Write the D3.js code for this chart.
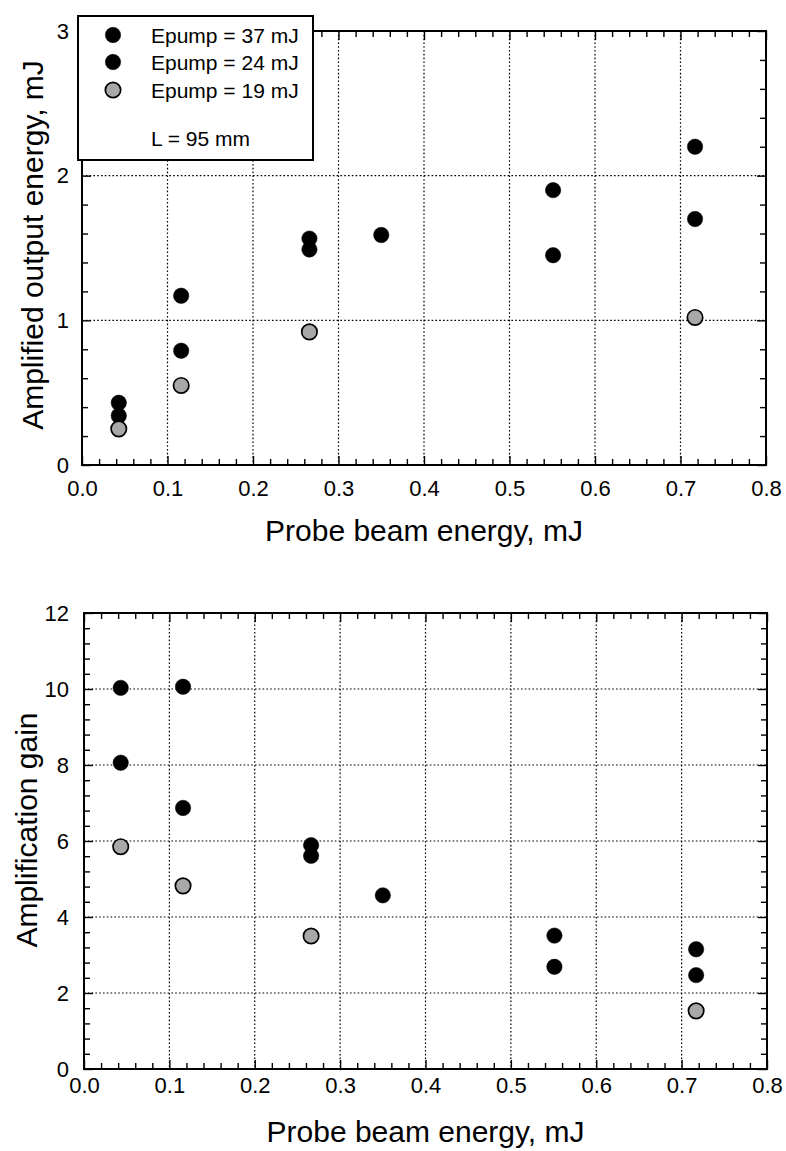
<!DOCTYPE html>
<html><head><meta charset="utf-8">
<script src="https://cdn.jsdelivr.net/npm/d3@7/dist/d3.min.js"></script>
<style>
html,body{margin:0;padding:0;background:#fff;}
svg{display:block;font-family:"Liberation Sans",Arial,Helvetica,sans-serif;}
</style></head>
<body>
<svg id="c" width="786" height="1151"></svg>
<script>
// ---- data ----
const seriesNames = ["Epump = 37 mJ", "Epump = 24 mJ", "Epump = 19 mJ"];
const probe37 = [0.043, 0.116, 0.266, 0.350, 0.551, 0.717];
const probe24 = [0.043, 0.116, 0.266, 0.551, 0.717];
const probe19 = [0.043, 0.116, 0.266, 0.717];
const out37 = [0.43, 1.17, 1.565, 1.59, 1.90, 2.20];
const out24 = [0.34, 0.79, 1.49, 1.45, 1.70];
const out19 = [0.25, 0.55, 0.92, 1.02];
const gain37 = [10.03, 10.06, 5.89, 4.57, 3.51, 3.15];
const gain24 = [8.06, 6.87, 5.61, 2.69, 2.47];
const gain19 = [5.85, 4.82, 3.50, 1.53];
const xTicks = [0.0, 0.1, 0.2, 0.3, 0.4, 0.5, 0.6, 0.7, 0.8];
const yTicksTop = [0, 1, 2, 3];
const yTicksBot = [0, 2, 4, 6, 8, 10, 12];
const legendNote = "L = 95 mm";

const svg = d3.select("#c");
const fills = ["#000", "#000", "#a8a8a8"];
const R = 7.7;

function panel(o) {
  const g = svg.append("g");
  const x = d3.scaleLinear().domain([0, 0.8]).range([o.left, o.right]);
  const y = d3.scaleLinear().domain(o.ydom).range([o.bottom, o.top]);
  // grid
  g.append("g").selectAll("line").data(xTicks.slice(1, -1)).join("line")
    .attr("x1", d => x(d)).attr("x2", d => x(d)).attr("y1", o.top).attr("y2", o.bottom)
    .attr("stroke", "#000").attr("stroke-width", 1.2).attr("stroke-dasharray", "1.6,2.2");
  g.append("g").selectAll("line").data(o.yTicks.slice(1, -1)).join("line")
    .attr("y1", d => y(d)).attr("y2", d => y(d)).attr("x1", o.left).attr("x2", o.right)
    .attr("stroke", "#000").attr("stroke-width", 1.2).attr("stroke-dasharray", "1.6,2.2");
  // minor ticks
  const xMin = d3.range(0, 41).map(i => i * 0.02).filter((d, i) => i % 5 !== 0);
  const yMin = d3.range(0, Math.round(o.ydom[1] / o.ymStep) + 1).map(i => i * o.ymStep)
    .filter((d, i) => i % 5 !== 0);
  const styleAx = s => { s.select(".domain").remove(); s.selectAll("line").attr("stroke", "#000").attr("stroke-width", 1.4); };
  g.append("g").attr("transform", `translate(0,${o.bottom})`)
    .call(d3.axisBottom(x).tickValues(xMin).tickSize(-6).tickFormat("")).call(styleAx);
  g.append("g").attr("transform", `translate(0,${o.top})`)
    .call(d3.axisTop(x).tickValues(xMin).tickSize(-6).tickFormat("")).call(styleAx);
  g.append("g").attr("transform", `translate(${o.left},0)`)
    .call(d3.axisLeft(y).tickValues(yMin).tickSize(-6).tickFormat("")).call(styleAx);
  g.append("g").attr("transform", `translate(${o.right},0)`)
    .call(d3.axisRight(y).tickValues(yMin).tickSize(-6).tickFormat("")).call(styleAx);
  // major ticks + labels
  const xa = g.append("g").attr("transform", `translate(0,${o.bottom})`)
    .call(d3.axisBottom(x).tickValues(xTicks).tickSize(-9).tickPadding(o.xPad).tickFormat(d3.format(".1f")))
    .call(styleAx);
  xa.selectAll("text").attr("font-size", 22).attr("fill", "#000").attr("font-family", "Liberation Sans, Arial, sans-serif");
  g.append("g").attr("transform", `translate(0,${o.top})`)
    .call(d3.axisTop(x).tickValues(xTicks).tickSize(-9).tickFormat("")).call(styleAx);
  const ya = g.append("g").attr("transform", `translate(${o.left},0)`)
    .call(d3.axisLeft(y).tickValues(o.yTicks).tickSize(-9).tickPadding(o.yPad).tickFormat(d3.format("d")))
    .call(styleAx);
  ya.selectAll("text").attr("font-size", 22).attr("fill", "#000").attr("font-family", "Liberation Sans, Arial, sans-serif");
  g.append("g").attr("transform", `translate(${o.right},0)`)
    .call(d3.axisRight(y).tickValues(o.yTicks).tickSize(-9).tickFormat("")).call(styleAx);
  // frame
  g.append("rect").attr("x", o.left).attr("y", o.top).attr("width", o.right - o.left).attr("height", o.bottom - o.top)
    .attr("fill", "none").attr("stroke", "#000").attr("stroke-width", 2);
  // titles
  g.append("text").attr("x", (o.left + o.right) / 2).attr("y", o.xTitleY).attr("text-anchor", "middle")
    .attr("font-size", 30).text("Probe beam energy, mJ");
  g.append("text").attr("transform", `translate(${o.yTitleX},${o.yTitleCY}) rotate(-90)`).attr("text-anchor", "middle")
    .attr("font-size", 30).text(o.yTitle);
  // points
  o.series.forEach((s, i) => {
    g.append("g").selectAll("circle").data(s.x.map((d, k) => [d, s.y[k]])).join("circle")
      .attr("cx", d => x(d[0])).attr("cy", d => y(d[1])).attr("r", R)
      .attr("fill", fills[i]).attr("stroke", "#000").attr("stroke-width", i === 2 ? 1.7 : 0.5);
  });
  return {g, x, y};
}

panel({left: 82, right: 766, top: 31, bottom: 465, ydom: [0, 3], yTicks: yTicksTop, ymStep: 0.2,
  xPad: 15, yPad: 13, xTitleY: 541, yTitleX: 43, yTitleCY: 245, yTitle: "Amplified output energy, mJ",
  series: [{x: probe37, y: out37}, {x: probe24, y: out24}, {x: probe19, y: out19}]});

panel({left: 84, right: 767, top: 613, bottom: 1069, ydom: [0, 12], yTicks: yTicksBot, ymStep: 0.4,
  xPad: 8, yPad: 15, xTitleY: 1142, yTitleX: 37, yTitleCY: 830, yTitle: "Amplification gain",
  series: [{x: probe37, y: gain37}, {x: probe24, y: gain24}, {x: probe19, y: gain19}]});

// legend
const lg = svg.append("g");
lg.append("rect").attr("x", 78).attr("y", 16).attr("width", 235).attr("height", 144)
  .attr("fill", "#fff").attr("stroke", "#000").attr("stroke-width", 2);
const rows = [35, 62, 90];
seriesNames.forEach((n, i) => {
  lg.append("circle").attr("cx", 113).attr("cy", rows[i]).attr("r", R)
    .attr("fill", fills[i]).attr("stroke", "#000").attr("stroke-width", i === 2 ? 1.7 : 0.5);
  lg.append("text").attr("x", 151).attr("y", rows[i] + 7.5).attr("font-size", 21).text(n);
});
lg.append("text").attr("x", 151).attr("y", 146).attr("font-size", 21).text(legendNote);
</script>
</body></html>
